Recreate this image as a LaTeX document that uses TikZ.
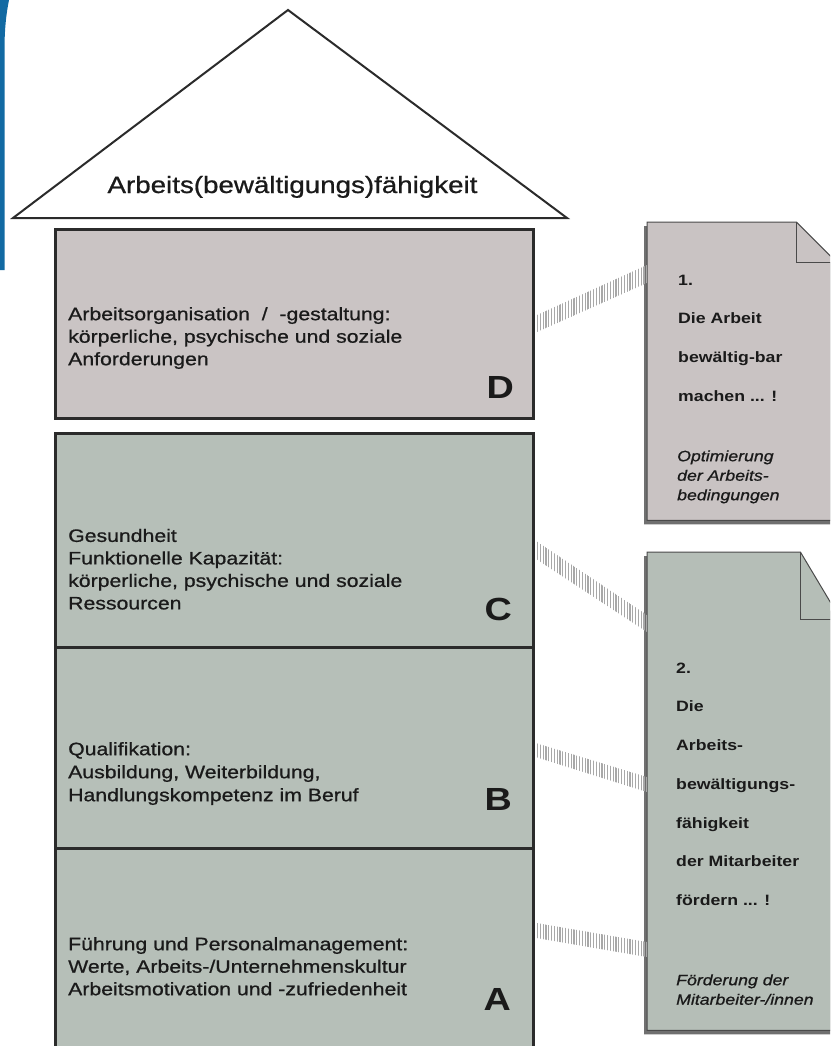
\documentclass[tikz,border=0pt]{standalone}
\usepackage{fontspec}
\setmainfont{Liberation Sans}[FakeStretch=1.18]
\newfontfamily\heavyfont{Liberation Sans}[FakeStretch=1.18, FakeBold=0.8]
\usetikzlibrary{calc,patterns.meta}
\definecolor{dfill}{HTML}{CAC4C4}
\definecolor{cfill}{HTML}{B6BFB8}
\definecolor{nonefill}{HTML}{C9C3C3}
\definecolor{ntwofill}{HTML}{B5BEB7}
\definecolor{bord}{HTML}{2B2B2B}
\definecolor{nbord}{HTML}{4A4A4A}
\definecolor{shad}{HTML}{707070}
\definecolor{txt}{HTML}{1A1A1A}
\definecolor{blueb}{HTML}{126AA3}
\definecolor{hatchc}{HTML}{A8A8A8}
\begin{document}
\begin{tikzpicture}[x=1pt,y=-1pt,
  pillar/.style={draw=bord, line width=2.5pt, inner sep=0pt, anchor=north west},
  boxtext/.style={anchor=north west, inner sep=0pt, align=left, text=txt,
    font=\heavyfont\fontsize{18}{22.5}\selectfont},
  bigletter/.style={anchor=base east, inner sep=0pt, text=txt,
    font=\fontsize{32}{36}\selectfont\bfseries},
  notebox/.style={inner sep=0pt, anchor=north west},
  noteline/.style={draw=nbord, line width=1pt, line join=miter},
  notemain/.style={anchor=north west, inner sep=0pt, align=left, text=txt,
    font=\fontsize{15}{38.7}\selectfont\bfseries},
  noteital/.style={anchor=north west, inner sep=0pt, align=left, text=txt,
    font=\heavyfont\fontsize{15}{19.5}\selectfont\itshape},
  hatch/.style={pattern={Lines[angle=90,distance=2.8pt,line width=1.1pt]}, pattern color=hatchc},
  roofst/.style={draw=bord, line width=2pt, fill=white, line join=miter}
]
\useasboundingbox (0,0) rectangle (830,1046);
\clip (0,0) rectangle (830,1046);
\fill[white] (0,0) rectangle (830,1046);

% blue edge
\fill[blueb] (0,0) -- (9,0) .. controls (6,15) and (4.5,30) .. (4.5,50) -- (4.5,270) -- (0,270) -- cycle;

% roof
\coordinate (rl) at (13,218);
\coordinate (rt) at (288,10);
\coordinate (rr) at (567,218);
\draw[roofst] (rl) -- (rt) -- (rr) -- cycle;
\node[anchor=base, inner sep=0pt, text=txt, font=\heavyfont\fontsize{23.5}{28}\selectfont] (roof) at (292.5,193) {Arbeits(bewältigungs)fähigkeit};

% pillars
\node[pillar, fill=dfill, minimum width=478pt, minimum height=189pt] (D) at (54,228) {};
\node[pillar, fill=cfill, minimum width=478pt, minimum height=214pt] (C) at (54,432) {};
\node[pillar, fill=cfill, minimum width=478pt, minimum height=201pt] (B) at (54,646) {};
\node[pillar, fill=cfill, minimum width=478pt, minimum height=215pt] (A) at (54,847) {};

\node[boxtext] (Dt) at (68,304.25) {\strut Arbeitsorganisation \ / \ -gestaltung:\\\strut körperliche, psychische und soziale\\\strut Anforderungen};
\node[boxtext] (Ct) at (68,525.95) {\strut Gesundheit\\\strut Funktionelle Kapazität:\\\strut körperliche, psychische und soziale\\\strut Ressourcen};
\node[boxtext, font=\heavyfont\fontsize{18}{23}\selectfont] (Bt) at (68,738.9) {\strut Qualifikation:\\\strut Ausbildung, Weiterbildung,\\\strut Handlungskompetenz im Beruf};
\node[boxtext] (At) at (68,934.25) {\strut Führung und Personalmanagement:\\\strut Werte, Arbeits-/Unternehmenskultur\\\strut Arbeitsmotivation und -zufriedenheit};

\node[bigletter] (Dl) at (514,398) {D};
\node[bigletter] (Cl) at (512,620) {C};
\node[bigletter] (Bl) at (512,810.7) {B};
\node[bigletter] (Al) at (511,1010) {A};

% notes
\node[notebox, minimum width=189pt, minimum height=298pt] (N1) at (647,222) {};
\node[notebox, minimum width=193pt, minimum height=478pt] (N2) at (647,552) {};

% note 1 shadow + shape
\fill[shad] ([shift={(-3,4)}]N1.north west) -- ([shift={(-43,4)}]N1.north east) -- ([shift={(-3,44)}]N1.north east) -- ([shift={(-3,4)}]N1.south east) -- ([shift={(-3,4)}]N1.south west) -- cycle;
\draw[noteline, fill=nonefill] (N1.north west) -- ($(N1.north east)+(-40,0)$) -- ($(N1.north east)+(0,40)$) -- (N1.south east) -- (N1.south west) -- cycle;
\draw[noteline] ($(N1.north east)+(-40,0)$) |- ($(N1.north east)+(0,40)$);

% note 2 shadow + shape
\fill[shad] ([shift={(-3,4)}]N2.north west) -- ([shift={(-43,4)}]N2.north east) -- ([shift={(-3,71)}]N2.north east) -- ([shift={(-3,4)}]N2.south east) -- ([shift={(-3,4)}]N2.south west) -- cycle;
\draw[noteline, fill=ntwofill] (N2.north west) -- ($(N2.north east)+(-40,0)$) -- ($(N2.north east)+(0,67)$) -- (N2.south east) -- (N2.south west) -- cycle;
\draw[noteline] ($(N2.north east)+(-40,0)$) |- ($(N2.north east)+(0,67)$);

% note texts
\node[notemain] (N1a) at (678,257.9) {\strut 1.\\\strut Die Arbeit\\\strut bewältig-bar\\\strut machen ... !};
\node[noteital] (N1b) at (677,447.35) {\strut Optimierung\\\strut der Arbeits-\\\strut bedingungen};
\node[notemain] (N2a) at (676,645.9) {\strut 2.\\\strut Die\\\strut Arbeits-\\\strut bewältigungs-\\\strut fähigkeit\\\strut der Mitarbeiter\\\strut fördern ... !};
\node[noteital] (N2b) at (676,971.35) {\strut Förderung der\\\strut Mitarbeiter-/innen};

% hatched connectors
\fill[hatch] ($(D.east)+(2,-8.5)$) -- ($(N1.north west)+(0,43)$) -- ($(N1.north west)+(0,61)$) -- ($(D.east)+(2,8.5)$) -- cycle;
\fill[hatch] ($(C.east)+(2,1)$) -- ($(N2.north west)+(0,63)$) -- ($(N2.north west)+(0,80)$) -- ($(C.east)+(2,19)$) -- cycle;
\fill[hatch] ($(B.east)+(2,-4.5)$) -- ($(N2.north west)+(0,225)$) -- ($(N2.north west)+(0,240)$) -- ($(B.east)+(2,9.5)$) -- cycle;
\fill[hatch] ($(A.north east)+(2,76)$) -- ($(N2.north west)+(0,390)$) -- ($(N2.north west)+(0,405)$) -- ($(A.north east)+(2,91)$) -- cycle;
\end{tikzpicture}
\end{document}
